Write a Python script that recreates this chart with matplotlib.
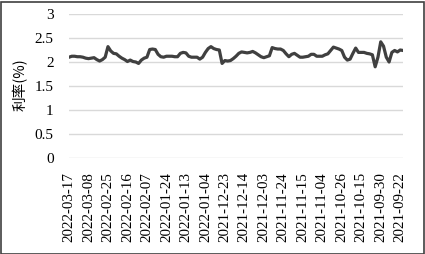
import matplotlib
matplotlib.use("Agg")
import matplotlib.pyplot as plt
from matplotlib.patches import Rectangle

tick_labels = ["2022-03-17", "2022-03-08", "2022-02-25", "2022-02-16", "2022-02-07",
               "2022-01-24", "2022-01-13", "2022-01-04", "2021-12-23", "2021-12-14",
               "2021-12-03", "2021-11-24", "2021-11-15", "2021-11-04", "2021-10-26",
               "2021-10-15", "2021-09-30", "2021-09-22"]

rates = [2.10, 2.12, 2.12, 2.11, 2.11, 2.10, 2.08, 2.07, 2.08, 2.09,
         2.05, 2.02, 2.05, 2.10, 2.32, 2.23, 2.18, 2.17, 2.12, 2.08,
         2.05, 2.01, 2.04, 2.01, 2.00, 1.97, 2.04, 2.08, 2.10, 2.26,
         2.27, 2.26, 2.16, 2.11, 2.10, 2.12, 2.12, 2.12, 2.11, 2.11,
         2.18, 2.20, 2.19, 2.12, 2.10, 2.10, 2.10, 2.06, 2.10, 2.20,
         2.28, 2.32, 2.28, 2.26, 2.25, 1.97, 2.03, 2.02, 2.03, 2.07,
         2.12, 2.18, 2.21, 2.20, 2.19, 2.20, 2.22, 2.19, 2.15, 2.11,
         2.09, 2.11, 2.13, 2.30, 2.28, 2.27, 2.27, 2.24, 2.17, 2.11,
         2.16, 2.18, 2.14, 2.10, 2.10, 2.11, 2.12, 2.16, 2.16, 2.12,
         2.12, 2.12, 2.15, 2.17, 2.24, 2.31, 2.29, 2.27, 2.24, 2.10,
         2.04, 2.06, 2.18, 2.29, 2.20, 2.20, 2.20, 2.18, 2.17, 2.15,
         1.90, 2.10, 2.42, 2.33, 2.10, 2.00, 2.20, 2.24, 2.21, 2.25,
         2.24]

yticks = [0, 0.5, 1, 1.5, 2, 2.5, 3]
ytick_labels = ["0", "0.5", "1", "1.5", "2", "2.5", "3"]
label_step = 7

W, H = 425, 254
fig = plt.figure(figsize=(W / 100, H / 100), dpi=100)
ax = fig.add_axes([69 / W, 1 - 158 / H, (403 - 69) / W, (158 - 14) / H])

x = list(range(len(rates)))
ax.plot(x, rates, color="#404040", linewidth=2.3, solid_joinstyle="round")

ax.set_xlim(0, len(rates) - 1)
ax.set_ylim(0, 3)
ax.set_yticks(yticks)
ax.set_yticklabels(ytick_labels, fontfamily="Liberation Serif", fontsize=11)
ax.set_xticks([i * label_step for i in range(len(tick_labels))])
ax.set_xticklabels(tick_labels, rotation=90, fontfamily="Liberation Serif", fontsize=10.8)
ax.tick_params(axis="both", length=0, colors="#000000")
ax.tick_params(axis="y", pad=11)
ax.tick_params(axis="x", pad=10)
ax.grid(axis="y", color="#d9d9d9", linewidth=1)
ax.set_axisbelow(True)
for s in ax.spines.values():
    s.set_visible(False)

fig.text(20 / W, 1 - 85 / H, "利率(%)", rotation=90, ha="center", va="center",
         fontsize=10.5, family=["Noto Sans CJK SC", "DejaVu Sans"], color="#000000")

fig.patches.append(Rectangle((0.5 / W, 0.5 / H), (W - 2) / W, (H - 2) / H,
                             transform=fig.transFigure, fill=False,
                             edgecolor="#404040", linewidth=1.2))

fig.savefig("out.png", dpi=100)
